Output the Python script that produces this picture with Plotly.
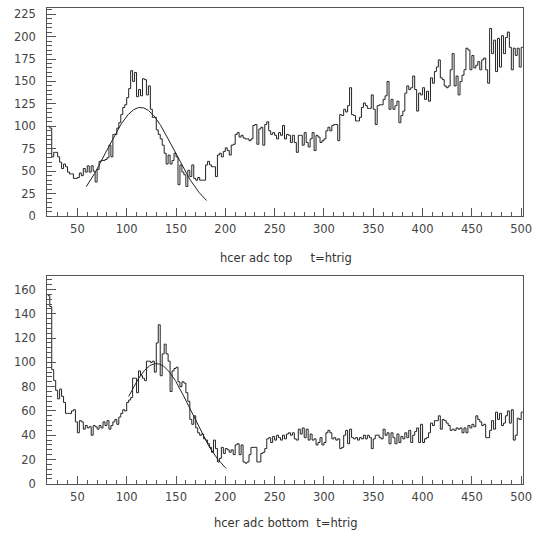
import numpy as np
import plotly.graph_objects as go

# ---------------- data ----------------
bin_start = 20
bin_width = 2

top_counts = [
    100, 98, 66, 71, 71, 66, 60, 53, 58, 55,
    49, 47, 47, 42, 42, 43, 48, 45, 53, 49,
    56, 49, 56, 50, 38, 52, 61, 62, 62, 63,
    65, 79, 66, 91, 91, 98, 104, 113, 121, 124,
    132, 142, 162, 150, 160, 133, 141, 134, 153, 152,
    135, 145, 119, 110, 110, 96, 91, 86, 79, 70,
    58, 68, 58, 62, 70, 66, 35, 57, 49, 46,
    33, 51, 44, 57, 42, 40, 43, 40, 40, 40,
    57, 61, 57, 55, 55, 44, 68, 70, 66, 72,
    76, 73, 68, 79, 80, 91, 93, 88, 90, 87,
    86, 86, 84, 86, 101, 102, 80, 97, 99, 79,
    102, 105, 95, 91, 93, 90, 86, 93, 90, 101,
    86, 91, 90, 82, 90, 82, 71, 90, 90, 79,
    93, 82, 77, 86, 93, 73, 90, 88, 82, 84,
    86, 95, 99, 95, 101, 102, 102, 84, 113, 112,
    119, 116, 123, 143, 113, 112, 106, 106, 110, 121,
    126, 123, 120, 120, 135, 119, 102, 123, 124, 124,
    130, 134, 150, 119, 130, 119, 123, 128, 104, 112,
    117, 137, 145, 141, 143, 156, 141, 117, 137, 135,
    143, 130, 139, 128, 154, 148, 161, 166, 174, 154,
    152, 145, 143, 145, 163, 181, 145, 156, 135, 150,
    157, 163, 187, 185, 163, 179, 165, 168, 172, 163,
    174, 176, 163, 148, 209, 181, 196, 161, 198, 166,
    201, 181, 199, 205, 188, 163, 187, 179, 187, 166,
    188,
]

bottom_counts = [
    155, 146, 94, 85, 77, 70, 78, 72, 67, 58,
    58, 58, 60, 61, 51, 42, 52, 51, 45, 48,
    46, 47, 40, 48, 47, 45, 48, 46, 51, 48,
    52, 45, 48, 51, 53, 49, 55, 58, 61, 60,
    67, 69, 71, 87, 87, 75, 93, 89, 87, 85,
    101, 101, 100, 101, 92, 116, 131, 89, 107, 115,
    107, 101, 76, 93, 95, 96, 84, 80, 84, 83,
    75, 68, 53, 49, 56, 46, 42, 40, 41, 37,
    36, 33, 30, 26, 36, 29, 18, 21, 30, 25,
    29, 28, 26, 28, 24, 32, 33, 24, 32, 18,
    17, 18, 24, 30, 30, 30, 18, 18, 25, 26,
    29, 37, 38, 34, 39, 36, 40, 38, 36, 40,
    37, 41, 42, 40, 42, 37, 36, 45, 41, 46,
    38, 45, 36, 41, 36, 37, 32, 34, 38, 32,
    34, 42, 44, 42, 37, 38, 36, 37, 29, 30,
    40, 44, 33, 45, 38, 37, 38, 36, 38, 37,
    40, 37, 40, 38, 29, 37, 40, 40, 38, 37,
    45, 40, 42, 33, 42, 38, 33, 41, 34, 39,
    37, 42, 38, 44, 34, 40, 43, 46, 34, 49,
    34, 37, 38, 42, 50, 48, 52, 52, 56, 45,
    53, 52, 50, 48, 44, 45, 44, 46, 45, 46,
    42, 46, 42, 48, 46, 49, 47, 56, 53, 51,
    48, 49, 38, 38, 44, 52, 45, 59, 53, 58,
    48, 50, 56, 60, 50, 61, 36, 40, 54, 53,
    59,
]

# Gaussian fit parameters (amplitude, mean, sigma, x-from, x-to)
top_fit = dict(amp=121, mean=114, sigma=34, x0=59, x1=181)
bottom_fit = dict(amp=99, mean=130, sigma=35, x0=102, x1=201)

top_title = "hcer adc top\u00a0\u00a0\u00a0\u00a0\u00a0t=htrig"
bottom_title = "hcer adc bottom\u00a0\u00a0t=htrig"

x_range = [19.4, 501.7]
top_y_range = [0, 231.6]
bottom_y_range = [0, 171]

# ---------------- figure ----------------
W, H = 542, 544
LINE = "#222222"
AX = "#555555"
FONT = dict(family="DejaVu Sans", size=11.5, color="#444444")


def step_xy(counts):
    edges = [bin_start + bin_width * i for i in range(len(counts) + 1)]
    ys = list(counts) + [counts[-1]]
    return edges, ys


def gauss(p):
    xs = np.linspace(p["x0"], p["x1"], 200)
    return xs, p["amp"] * np.exp(-((xs - p["mean"]) ** 2) / (2 * p["sigma"] ** 2))


fig = go.Figure()

ex, ey = step_xy(top_counts)
fig.add_trace(go.Scatter(x=ex, y=ey, mode="lines", line=dict(color=LINE, width=1, shape="hv"),
                         xaxis="x", yaxis="y", showlegend=False, hoverinfo="skip"))
gx, gy = gauss(top_fit)
fig.add_trace(go.Scatter(x=gx, y=gy, mode="lines", line=dict(color=LINE, width=1),
                         xaxis="x", yaxis="y", showlegend=False, hoverinfo="skip"))

ex, ey = step_xy(bottom_counts)
fig.add_trace(go.Scatter(x=ex, y=ey, mode="lines", line=dict(color=LINE, width=1, shape="hv"),
                         xaxis="x2", yaxis="y2", showlegend=False, hoverinfo="skip"))
gx, gy = gauss(bottom_fit)
fig.add_trace(go.Scatter(x=gx, y=gy, mode="lines", line=dict(color=LINE, width=1),
                         xaxis="x2", yaxis="y2", showlegend=False, hoverinfo="skip"))

x_dom = [48 / W, 531.7 / W]
top_dom = [(H - 218.3) / H, (H - 7.3) / H]
bot_dom = [(H - 490) / H, (H - 279.3) / H]


def xaxis(anchor, dom):
    return dict(domain=x_dom, anchor=anchor, range=x_range, tick0=0, dtick=50,
                ticks="inside", ticklen=8, tickwidth=1, tickcolor=AX,
                minor=dict(ticks="inside", dtick=10, ticklen=4, tickcolor=AX, tickwidth=1),
                showline=True, linecolor=AX, linewidth=1, mirror=True,
                showgrid=False, zeroline=False, tickfont=FONT, ticklabelstandoff=2,
                ticklabeloverflow="allow")


def yaxis(anchor, dom, rng, dt, mdt):
    return dict(domain=dom, anchor=anchor, range=rng, tick0=0, dtick=dt,
                ticks="inside", ticklen=9, tickwidth=1, tickcolor=AX,
                minor=dict(ticks="inside", dtick=mdt, ticklen=4.5, tickcolor=AX, tickwidth=1),
                showline=True, linecolor=AX, linewidth=1, mirror=True,
                showgrid=False, zeroline=False, tickfont=FONT, ticklabelstandoff=8,
                ticklabeloverflow="allow")


fig.update_layout(
    width=W, height=H,
    margin=dict(l=0, r=0, t=0, b=0),
    paper_bgcolor="white", plot_bgcolor="white",
    xaxis=xaxis("y", top_dom),
    yaxis=yaxis("x", top_dom, top_y_range, 25, 5),
    xaxis2=xaxis("y2", bot_dom),
    yaxis2=yaxis("x2", bot_dom, bottom_y_range, 20, 4),
    annotations=[
        dict(text=top_title, x=291 / W, y=(H - 260.5) / H, xref="paper", yref="paper",
             showarrow=False, font=dict(family="DejaVu Sans", size=11.5, color="#333333"),
             xanchor="center", yanchor="middle"),
        dict(text=bottom_title, x=290 / W, y=(H - 530) / H, xref="paper", yref="paper",
             showarrow=False, font=dict(family="DejaVu Sans", size=11.5, color="#333333"),
             xanchor="center", yanchor="middle"),
    ],
)

fig.write_html("out.html",
               config={"displayModeBar": False},
               post_script="document.body.style.margin='0';document.body.style.overflow='hidden';")
